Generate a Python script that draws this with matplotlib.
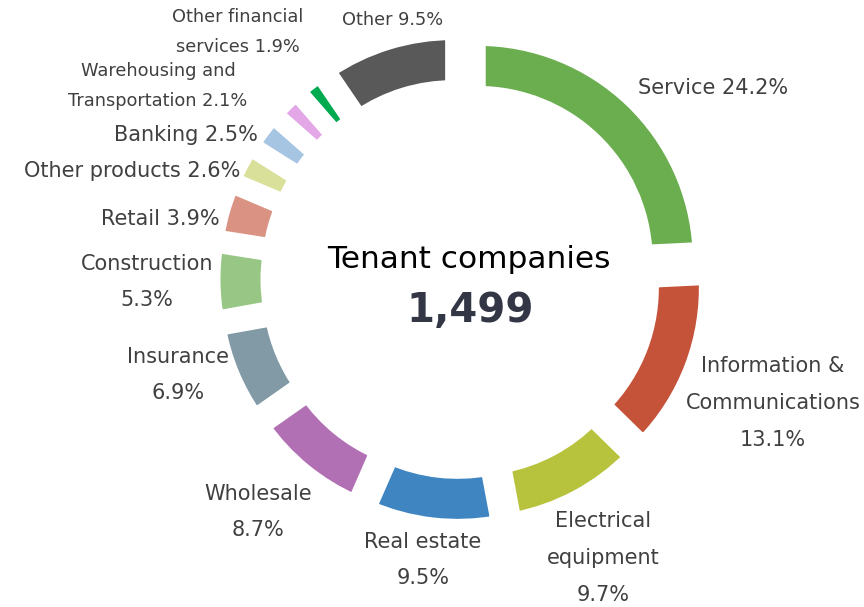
import matplotlib
matplotlib.use("Agg")
import matplotlib.pyplot as plt

# Tenant companies by industry (%), clockwise from the top
industries = ["Service", "Information &\nCommunications", "Electrical\nequipment",
              "Real estate", "Wholesale", "Insurance", "Construction", "Retail",
              "Other products", "Banking", "Warehousing and\nTransportation",
              "Other financial\nservices", "Other"]
shares = [24.2, 13.1, 9.7, 9.5, 8.7, 6.9, 5.3, 3.9, 2.6, 2.5, 2.1, 1.9, 9.5]
colors = ["#6AAE4F", "#C5533A", "#B8C33D", "#3F85C2", "#B170B4", "#819AA6",
          "#98C785", "#DA9383", "#D9E09A", "#A5C5E3", "#E3A6E6", "#00AA4F", "#595959"]
total_companies = 1499

# label layout in pixel coords: (x, y, ha, text template, small font)
label_layout = [
    (713, 88, "center", "{name} {pct}", False),
    (773, 403, "center", "{name}\n{pct}", False),
    (603, 558, "center", "{name}\n{pct}", False),
    (423, 560, "center", "{name}\n{pct}", False),
    (258, 512, "center", "{name}\n{pct}", False),
    (178, 375, "center", "{name}\n{pct}", False),
    (147, 282, "center", "{name}\n{pct}", False),
    (220, 219, "right", "{name} {pct}", False),
    (240, 171, "right", "{name} {pct}", False),
    (258, 135, "right", "{name} {pct}", False),
    (158, 86, "center", "{name} {pct}", True),
    (238, 32, "center", "{name} {pct}", True),
    (393, 20, "center", "{name} {pct}", True),
]

W, H = 864, 607
fig = plt.figure(figsize=(W / 100, H / 100), dpi=100)
ax = fig.add_axes([0, 0, 1, 1])

cx, cy = 460.5, H - 279
ax.pie(shares, colors=colors, startangle=90, counterclock=False,
       radius=223, center=(cx, cy), explode=[25] * len(shares),
       wedgeprops=dict(width=56, edgecolor="white", linewidth=11.5,
                       joinstyle="miter"))

ax.set_xlim(0, W)
ax.set_ylim(0, H)
ax.set_aspect("equal")
ax.axis("off")

text_color = "#404040"
for name, pct, (x, y, ha, tmpl, small) in zip(industries, shares, label_layout):
    s = tmpl.format(name=name, pct=f"{pct}%")
    ax.text(x, H - y, s, ha=ha, va="center", ma="center",
            fontsize=12.8 if small else 15, color=text_color,
            linespacing=1.87 if small else 2.05)

ax.text(469, H - 259, "Tenant companies", ha="center", va="center",
        fontsize=22.5, color="#000000")
ax.text(470, H - 311, f"{total_companies:,}", ha="center", va="center",
        fontsize=29, fontweight="bold", color="#333645")

fig.savefig("out.png", dpi=100)
